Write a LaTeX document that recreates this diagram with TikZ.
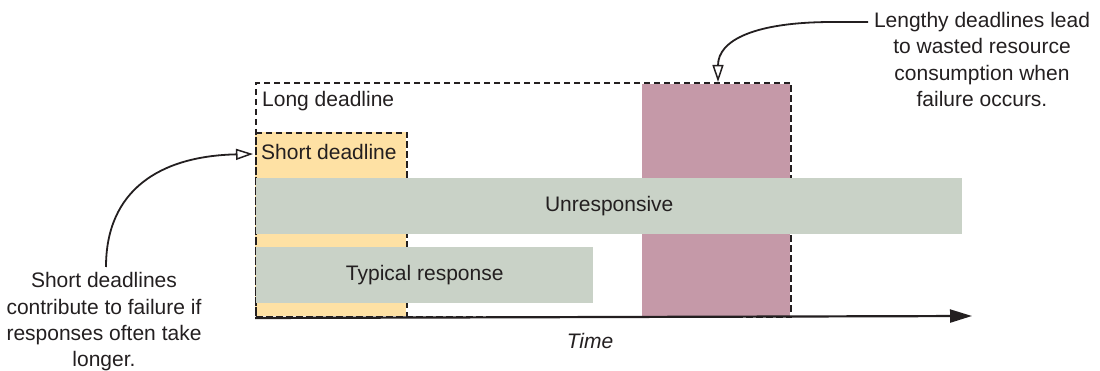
\documentclass[tikz,border=0pt]{standalone}
\usepackage{fontspec}
\setmainfont{Liberation Sans}
\usetikzlibrary{arrows.meta}
\definecolor{shortc}{HTML}{FEE1A4}
\definecolor{respc}{HTML}{C9D2C7}
\definecolor{wastec}{HTML}{C599A8}
\definecolor{ink}{HTML}{231F20}
\begin{document}
\begin{tikzpicture}[x=1pt,y=-1pt,
  font=\fontsize{21}{26.3}\selectfont,
  every node/.style={text=ink},
  dashbox/.style={draw=ink, line width=2pt, dash pattern=on 6.5pt off 3.5pt, inner sep=0pt, anchor=north west},
  fillbox/.style={draw=none, inner sep=0pt, anchor=north west},
  bar/.style={fill=respc, draw=none, inner sep=0pt, anchor=north west, minimum height=56pt},
  annot/.style={draw=ink, line width=1.8pt, -{Triangle[open, length=17pt, width=11pt, line width=1.5pt]}},
  note/.style={align=center, inner sep=0pt, anchor=north}
]
\useasboundingbox (0,0) rectangle (1100,371);
% fills
\node[fillbox, fill=shortc, minimum width=151pt, minimum height=184pt] (shortfill) at (255,132) {};
\node[fillbox, fill=wastec, minimum width=148pt, minimum height=232pt] (waste) at (642,84) {};
% dashed boxes
\node[dashbox, minimum width=535pt, minimum height=234pt] (long) at (255,82) {};
\node[dashbox, minimum width=151pt, minimum height=184pt] (short) at (255,132) {};
\node[anchor=west, inner sep=0pt] (longlbl) at (262,101) {Long deadline};
\node[anchor=west, inner sep=0pt] (shortlbl) at (261,152) {Short deadline};
% bars
\node[bar, minimum width=706pt] (unresp) at (256,178) {};
\node (unresplbl) at (unresp.center) {Unresponsive};
\node[bar, minimum width=337pt] (typical) at (256,247) {};
\node (typicallbl) at (typical.center) {Typical response};
% axis
\coordinate (axend) at (972,316);
\draw[draw=ink, line width=2.2pt, -{Triangle[length=22pt, width=13pt]}] (long.south west) -- (axend);
\node[font=\fontsize{21}{26.3}\selectfont\itshape] (time) at (590,341) {Time};
% annotations
\node[note] (rnote) at (982,12) {Lengthy deadlines lead\\to wasted resource\\consumption when\\failure occurs.};
\node[note] (lnote) at (104,272.5) {Short deadlines\\contribute to failure if\\responses often take\\longer.};
\coordinate (rs) at (868,22);
\coordinate (rt) at (718,82);
\draw[annot] (rs) -- (833,22) .. controls (755,22) and (718,40) .. (rt);
\coordinate (ls) at (106,267);
\coordinate (lt) at (253,154);
\draw[annot] (ls) .. controls (106,190) and (160,156) .. (lt);
\end{tikzpicture}
\end{document}
